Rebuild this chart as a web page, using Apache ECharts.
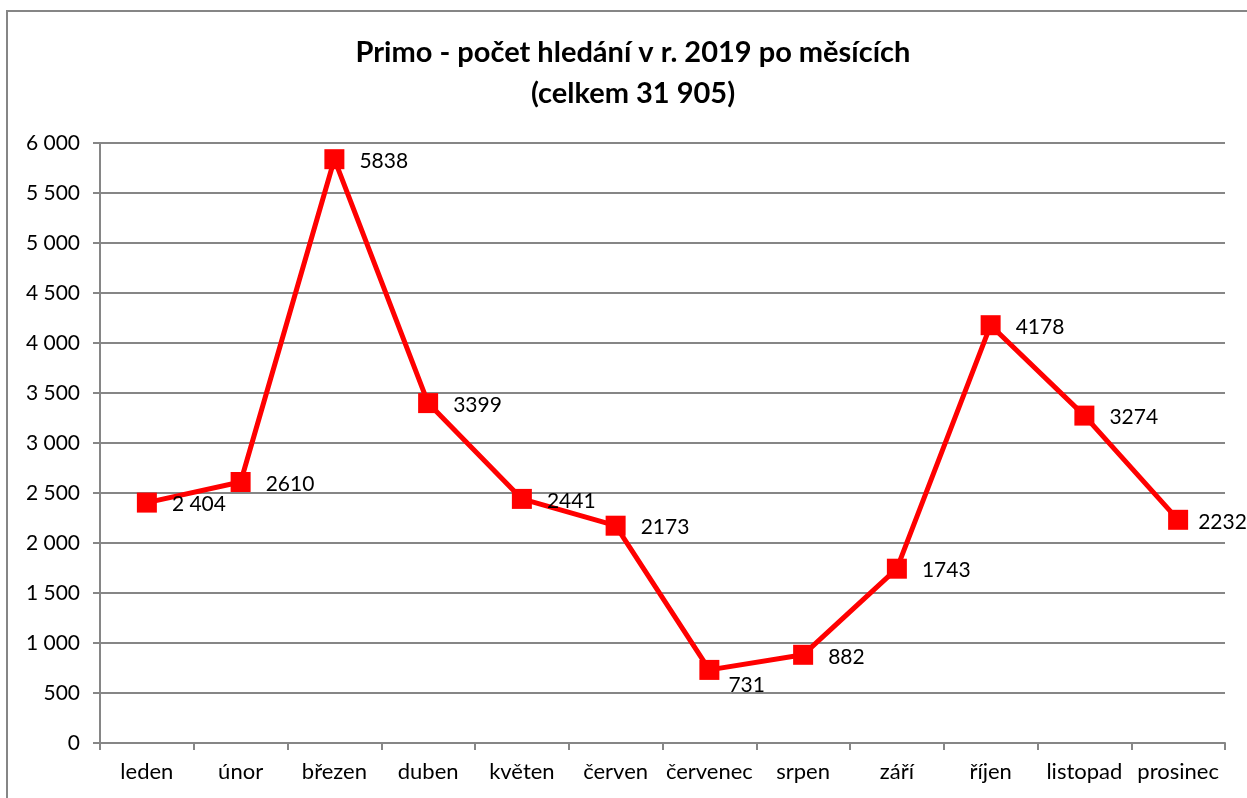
<!DOCTYPE html>
<html>
<head>
<meta charset="utf-8">
<script src="https://cdn.jsdelivr.net/npm/echarts@6/dist/echarts.min.js"></script>
<style>
  html, body { margin: 0; padding: 0; background: #fff; }
  #main { width: 1247px; height: 798px; }
</style>
</head>
<body>
<div id="main"></div>
<script>
// měsíce (osa x)
var months = ['leden', 'únor', 'březen', 'duben', 'květen', 'červen',
    'červenec', 'srpen', 'září', 'říjen', 'listopad', 'prosinec'];
// počet hledání
var searches = [2404, 2610, 5838, 3399, 2441, 2173, 731, 882, 1743, 4178, 3274, 2232];
// popisky bodů tak, jak jsou v grafu
var pointLabels = ['2 404', '2610', '5838', '3399', '2441', '2173', '731', '882', '1743', '4178', '3274', '2232'];

var FONT = 'Lato, "Open Sans", sans-serif';
var myChart = echarts.init(document.getElementById('main'));

function fmtThousands(v) {
    return String(v).replace(/\B(?=(\d{3})+(?!\d))/g, ' ');
}

var seriesData = searches.map(function (v, i) {
    var item = { value: v };
    // popisek 731 je v originále posunutý dolů, poslední blíž k bodu
    if (i === 6) {
        item.label = { offset: [-6, 15] };
    } else if (i === searches.length - 1) {
        item.label = { offset: [-5, 2] };
    }
    return item;
});

option = {
    animation: false,
    backgroundColor: '#fff',
    graphic: [{
        type: 'rect',
        shape: { x: 7, y: 11, width: 1260, height: 800 },
        style: { fill: 'none', stroke: '#868686', lineWidth: 2 },
        silent: true
    }],
    title: {
        text: 'Primo - počet hledání v r. 2019 po měsících\n(celkem 31 905)',
        left: 628,
        textAlign: 'center',
        top: 27,
        textStyle: {
            fontFamily: FONT,
            fontWeight: 'bold',
            fontSize: 29,
            lineHeight: 41,
            color: '#000'
        }
    },
    grid: {
        left: 100,
        right: 22,
        top: 143,
        bottom: 55
    },
    xAxis: {
        type: 'category',
        data: months,
        boundaryGap: true,
        axisLine: { lineStyle: { color: '#868686', width: 2 } },
        axisTick: { show: true, length: 7, lineStyle: { color: '#868686', width: 2 } },
        axisLabel: {
            fontFamily: FONT,
            fontSize: 22,
            color: '#000',
            margin: 18,
            interval: 0
        }
    },
    yAxis: {
        type: 'value',
        min: 0,
        max: 6000,
        interval: 500,
        axisLine: { show: true, lineStyle: { color: '#868686', width: 2 } },
        axisTick: { show: true, length: 7, lineStyle: { color: '#868686', width: 2 } },
        splitLine: { lineStyle: { color: '#868686', width: 2 } },
        axisLabel: {
            fontFamily: FONT,
            fontSize: 21,
            color: '#000',
            margin: 20,
            formatter: function (v) { return fmtThousands(v); }
        }
    },
    series: [{
        name: 'Primo',
        type: 'line',
        data: seriesData,
        symbol: 'rect',
        symbolSize: 20,
        lineStyle: { color: '#ff0000', width: 5 },
        itemStyle: { color: '#ff0000' },
        label: {
            show: true,
            position: 'right',
            distance: 15,
            offset: [0, 2],
            fontFamily: FONT,
            fontSize: 21,
            color: '#000',
            formatter: function (p) { return pointLabels[p.dataIndex]; }
        }
    }]
};
myChart.setOption(option);
</script>
</body>
</html>
